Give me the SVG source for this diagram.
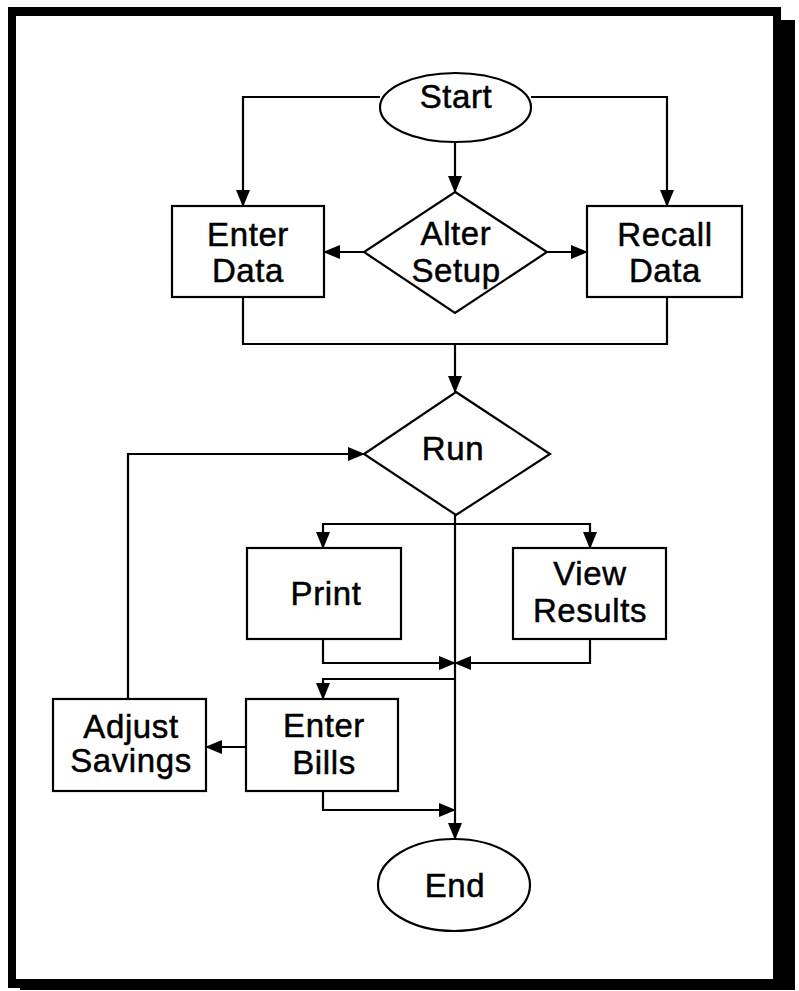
<svg xmlns="http://www.w3.org/2000/svg" width="799" height="991" viewBox="0 0 799 991">
<style>
.shape{fill:#fff;stroke:#000;stroke-width:2.2}
.lbl{font-family:"Liberation Sans",Arial,sans-serif;font-size:33px;fill:#000;stroke:#000;stroke-width:0.5;text-anchor:middle;letter-spacing:0.6px}
.conn{fill:none;stroke:#000;stroke-width:2.2}
</style>
<defs>
<marker id="ah" markerUnits="userSpaceOnUse" markerWidth="18" markerHeight="14" refX="16" refY="7" orient="auto">
<path d="M0,0 L17,7 L0,14 Z" fill="#000"/>
</marker>
</defs>
<rect x="0" y="0" width="799" height="991" fill="#fff"/>
<g id="frame">
<rect x="8" y="7" width="773" height="981" fill="#000"/>
<rect x="773" y="20" width="22" height="970" fill="#000"/>
<rect x="20" y="979" width="775" height="11" fill="#000"/>
<rect x="16" y="16" width="757" height="963" fill="#fff"/>
</g>
<g id="connectors">
<path class="conn" d="M380,97 H243 V206" marker-end="url(#ah)"/>
<path class="conn" d="M531,97 H667 V206" marker-end="url(#ah)"/>
<path class="conn" d="M455,142 V192" marker-end="url(#ah)"/>
<path class="conn" d="M364,252 H324" marker-end="url(#ah)"/>
<path class="conn" d="M547,252 H587" marker-end="url(#ah)"/>
<path class="conn" d="M243,297 V344 H667 V297"/>
<path class="conn" d="M455,344 V392" marker-end="url(#ah)"/>
<path class="conn" d="M128,699 V454 H364" marker-end="url(#ah)"/>
<path class="conn" d="M455,515 V839" marker-end="url(#ah)"/>
<path class="conn" d="M455,524 H323 V548" marker-end="url(#ah)"/>
<path class="conn" d="M455,524 H590 V548" marker-end="url(#ah)"/>
<path class="conn" d="M323,639 V663 H455" marker-end="url(#ah)"/>
<path class="conn" d="M590,639 V663 H455" marker-end="url(#ah)"/>
<path class="conn" d="M455,679 H323 V699" marker-end="url(#ah)"/>
<path class="conn" d="M246,747 H206" marker-end="url(#ah)"/>
<path class="conn" d="M323,791 V810 H455" marker-end="url(#ah)"/>
</g>
<g id="start">
<ellipse class="shape" cx="455.5" cy="107.5" rx="75.5" ry="34.5"/>
<text class="lbl" x="456" y="108">Start</text>
</g>
<g id="enter-data">
<rect class="shape" x="172" y="206" width="152" height="91"/>
<text class="lbl" x="248" y="246">Enter</text>
<text class="lbl" x="248" y="282">Data</text>
</g>
<g id="alter-setup">
<polygon class="shape" points="455,192 547,252 455,313 364,252"/>
<text class="lbl" x="456" y="245">Alter</text>
<text class="lbl" x="456" y="282">Setup</text>
</g>
<g id="recall-data">
<rect class="shape" x="587" y="206" width="155" height="91"/>
<text class="lbl" x="665" y="246">Recall</text>
<text class="lbl" x="665" y="282">Data</text>
</g>
<g id="run">
<polygon class="shape" points="456,392 550,454 456,515 364,454"/>
<text class="lbl" x="453" y="460">Run</text>
</g>
<g id="print">
<rect class="shape" x="247" y="548" width="154" height="91"/>
<text class="lbl" x="326" y="605">Print</text>
</g>
<g id="view-results">
<rect class="shape" x="513" y="548" width="153" height="91"/>
<text class="lbl" x="590" y="585">View</text>
<text class="lbl" x="590" y="622">Results</text>
</g>
<g id="adjust-savings">
<rect class="shape" x="53" y="699" width="153" height="92"/>
<text class="lbl" x="131" y="738">Adjust</text>
<text class="lbl" x="131" y="772">Savings</text>
</g>
<g id="enter-bills">
<rect class="shape" x="246" y="699" width="152" height="92"/>
<text class="lbl" x="324" y="737">Enter</text>
<text class="lbl" x="324" y="774">Bills</text>
</g>
<g id="end">
<ellipse class="shape" cx="454" cy="885" rx="76" ry="46"/>
<text class="lbl" x="455" y="897">End</text>
</g>
</svg>
